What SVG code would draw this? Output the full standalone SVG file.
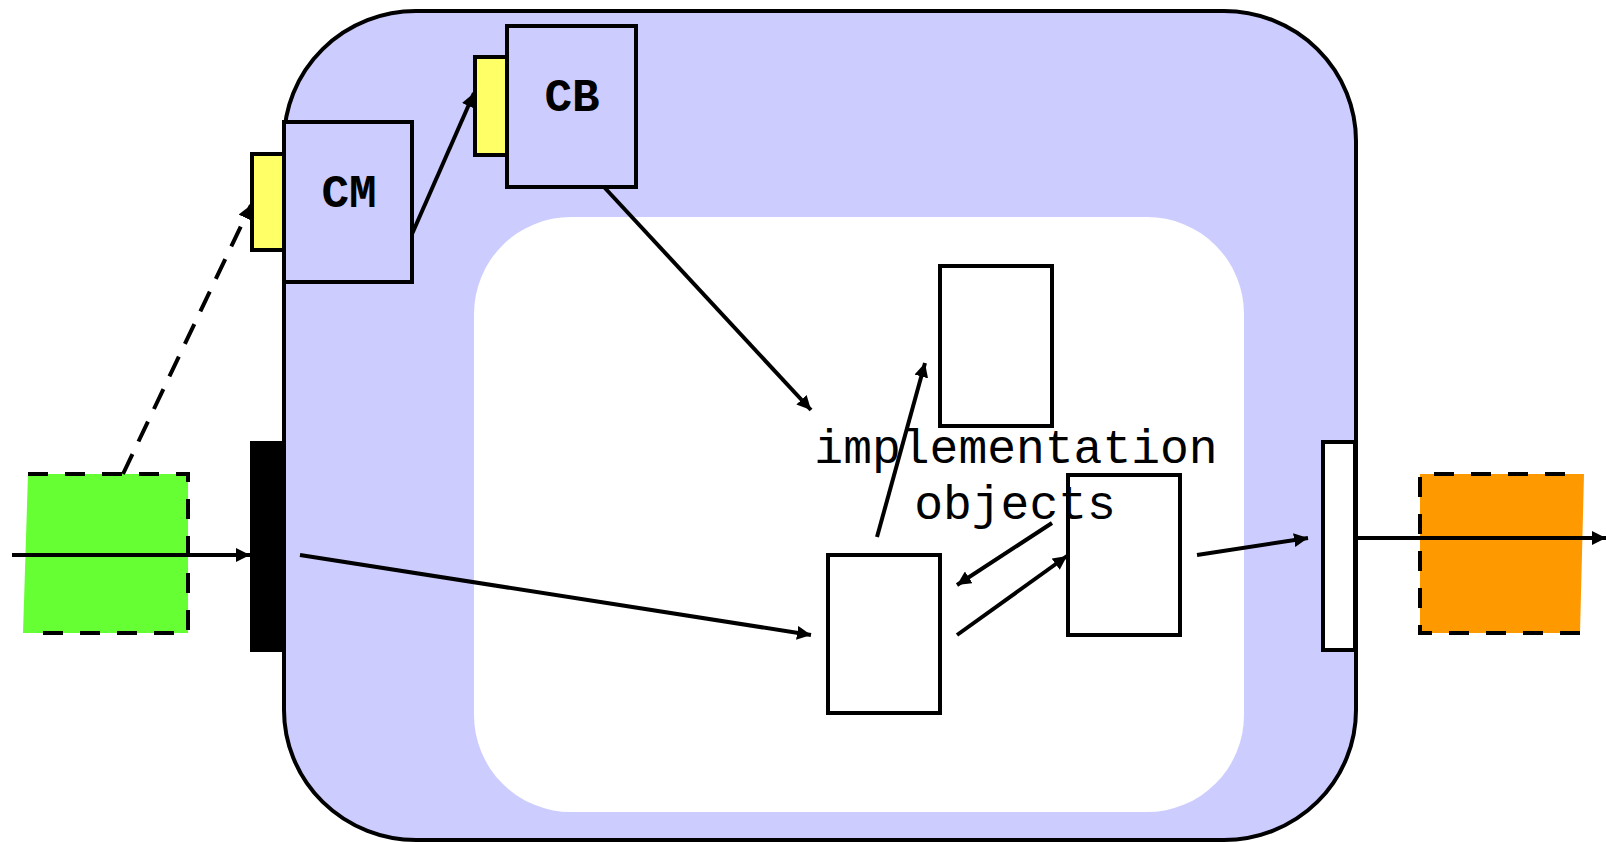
<svg xmlns="http://www.w3.org/2000/svg" width="1606" height="842" viewBox="0 0 1606 842">
<style>
.box{stroke:#000;stroke-width:4}
.ln{stroke:#000;stroke-width:4;fill:none}
.lbl{font-family:"Liberation Mono","DejaVu Sans Mono",monospace;font-weight:bold;font-size:46px;text-anchor:middle}
.txt{font-family:"Liberation Mono","DejaVu Sans Mono",monospace;font-size:48px;text-anchor:middle}
</style>
<defs>
<marker id="ah" markerUnits="userSpaceOnUse" markerWidth="16" markerHeight="14" refX="14" refY="7" orient="auto">
<path d="M0,0 L14,7 L0,14 z" fill="#000"/>
</marker>
</defs>
<rect width="1606" height="842" fill="#fff"/>
<g id="component">
<rect x="284" y="11" width="1072" height="829" rx="132" ry="130" fill="#ccccff" class="box"/>
<rect x="474" y="217" width="770" height="595" rx="97" fill="#fff"/>
</g>
<g id="source">
<polygon points="28,474 188,474 188,633 23,633" fill="#66ff33"/>
<polyline points="28,474 188,474 188,633 37,633" fill="none" stroke="#000" stroke-width="4" stroke-dasharray="20 17"/>
</g>
<g id="sink">
<polygon points="1420,474 1584,474 1580,633 1420,633" fill="#ff9900"/>
<polyline points="1580,633 1420,633 1420,474 1575,474" fill="none" stroke="#000" stroke-width="4" stroke-dasharray="20 17"/>
</g>
<g id="inport"><rect x="250" y="441" width="34" height="211" fill="#000"/></g>
<g id="outport"><rect x="1323" y="442" width="32" height="208" fill="#fff" class="box"/></g>
<g id="CM">
<rect x="252" y="154" width="32" height="96" fill="#ffff66" class="box"/>
<rect x="284" y="122" width="128" height="160" fill="#ccccff" class="box"/>
<text x="349" y="207" class="lbl">CM</text>
</g>
<g id="CB">
<rect x="475" y="57" width="32" height="98" fill="#ffff66" class="box"/>
<rect x="507" y="26" width="129" height="161" fill="#ccccff" class="box"/>
<text x="572" y="111" class="lbl">CB</text>
</g>
<g id="obj1"><rect x="940" y="266" width="112" height="160" fill="#fff" class="box"/></g>
<g id="obj2"><rect x="828" y="555" width="112" height="158" fill="#fff" class="box"/></g>
<g id="obj3"><rect x="1068" y="475" width="112" height="160" fill="#fff" class="box"/></g>
<g id="label">
<text x="1016" y="463" class="txt">implementation</text>
<text x="1015" y="519" class="txt">objects</text>
</g>
<g id="connectors">
<line x1="12" y1="555" x2="250" y2="555" class="ln" marker-end="url(#ah)"/>
<line x1="123" y1="474" x2="251" y2="205" class="ln" stroke-dasharray="22 14" marker-end="url(#ah)"/>
<line x1="412" y1="234" x2="474" y2="93" class="ln" marker-end="url(#ah)"/>
<line x1="604" y1="187" x2="811" y2="410" class="ln" marker-end="url(#ah)"/>
<line x1="300" y1="555" x2="811" y2="635" class="ln" marker-end="url(#ah)"/>
<line x1="877" y1="537" x2="925" y2="363" class="ln" marker-end="url(#ah)"/>
<line x1="1052" y1="523" x2="957" y2="585" class="ln" marker-end="url(#ah)"/>
<line x1="957" y1="635" x2="1067" y2="556" class="ln" marker-end="url(#ah)"/>
<line x1="1197" y1="555" x2="1308" y2="538" class="ln" marker-end="url(#ah)"/>
<line x1="1357" y1="538" x2="1606" y2="538" class="ln" marker-end="url(#ah)"/>
</g>
</svg>
